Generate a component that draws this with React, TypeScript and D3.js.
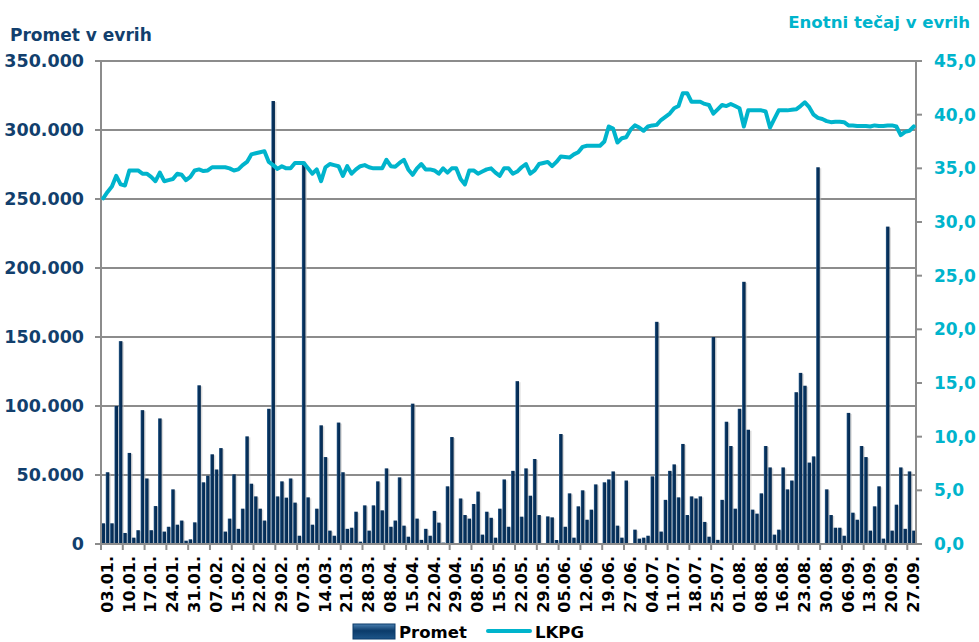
import React, { useEffect, useRef } from 'react';
import * as d3 from 'd3';

// Promet v evrih (v tisočih), dnevno
const promet = [
  15, 52, 15, 100, 147, 8, 66, 4.6, 10, 97, 47.5, 10, 27.5, 91, 9, 12.5, 39.6, 14, 17, 2.4,
  3.4, 15.7, 115, 44.7, 49.5, 65, 54, 69.5, 9, 18.4, 50.5, 11, 25.6, 78, 43.7, 34.5, 25.6, 17, 98, 321,
  34.5, 45.4, 33.6, 47.5, 30, 6, 277, 33.8, 14, 25.6, 86, 63, 9.7, 6, 88, 52, 11, 11.8, 23.4, 1.7,
  28, 9.7, 28, 45.4, 24.4, 54.8, 12.5, 17, 48.3, 13.3, 5.3, 101.7, 18.4, 3, 11, 6, 24, 15.5, 1, 41.8,
  77.5, 0, 33, 21, 18.4, 29, 38, 6.8, 23.4, 19, 4.6, 25.6, 46.8, 12.5, 53, 118, 19.8, 54.8, 35, 61.6,
  21, 0, 20, 19.3, 2.9, 79.7, 12.5, 36.7, 4.6, 27.3, 38.9, 17.6, 24.9, 43.2, 0, 44.7, 46.8, 52.6, 13.3, 4.6,
  46, 0, 10.4, 3.9, 4.6, 6, 49, 161, 9, 32, 53, 57.7, 33.8, 72.5, 21, 34.5, 33, 34.5, 16, 5.3,
  150, 3, 32, 88.6, 71, 25.6, 98, 190, 82.8, 24.9, 22, 36.7, 71, 55.5, 6.8, 10.4, 55.5, 39.6, 46, 110,
  124, 114.7, 59, 63.5, 273, 0, 39.6, 21, 11.8, 11.8, 6, 95, 22.7, 17.6, 71, 63, 9.7, 27.3, 41.8, 3.9,
  230, 9.7, 28.5, 55.5, 11, 52.6, 9.7,
];

// LKPG enotni tečaj
const tecaj = [
  32.2, 32.8, 33.3, 34.3, 33.5, 33.4, 34.8, 34.8, 34.8, 34.5, 34.5, 34.2, 33.8, 34.6, 33.8, 33.9, 34.0, 34.5, 34.4, 33.9,
  34.2, 34.8, 34.9, 34.75, 34.8, 35.1, 35.1, 35.1, 35.1, 35.0, 34.8, 34.9, 35.3, 35.6, 36.3, 36.4, 36.5, 36.6, 35.6, 35.3,
  34.95, 35.2, 35.0, 35.0, 35.5, 35.5, 35.5, 35.0, 34.5, 34.9, 33.8, 35.1, 35.4, 35.3, 35.2, 34.3, 35.2, 34.5, 34.9, 35.2,
  35.3, 35.1, 35.0, 35.0, 35.0, 35.8, 35.2, 35.15, 35.5, 35.8, 34.9, 34.4, 35.0, 35.4, 34.9, 34.9, 34.8, 34.5, 35.0, 34.6,
  35.0, 35.0, 34.0, 33.5, 34.8, 34.8, 34.5, 34.7, 34.9, 35.0, 34.6, 34.3, 35.0, 35.0, 34.5, 34.7, 35.1, 35.4, 34.5, 34.8,
  35.4, 35.5, 35.6, 35.2, 35.6, 36.1, 36.05, 36.0, 36.3, 36.5, 37.0, 37.1, 37.1, 37.1, 37.1, 37.5, 38.9, 38.7, 37.4, 37.8,
  37.9, 38.6, 39.0, 38.8, 38.5, 38.9, 39.0, 39.05, 39.5, 39.8, 40.1, 40.6, 40.8, 42.0, 42.0, 41.2, 41.2, 41.2, 41.0, 40.9,
  40.1, 40.5, 40.9, 40.8, 41.0, 40.8, 40.6, 38.9, 40.4, 40.4, 40.4, 40.4, 40.3, 38.8, 39.6, 40.4, 40.4, 40.4, 40.45, 40.5,
  40.8, 41.15, 40.7, 40.0, 39.7, 39.6, 39.4, 39.3, 39.35, 39.35, 39.3, 39.0, 39.0, 38.95, 38.95, 38.95, 38.9, 39.0, 38.95, 38.95,
  39.0, 39.0, 38.9, 38.1, 38.4, 38.5, 38.9,
];

// oznake vsakih 5 trgovalnih dni
const datumi = [
  '03.01.', '10.01.', '17.01.', '24.01.', '31.01.', '07.02.', '15.02.', '22.02.', '29.02.', '07.03.',
  '14.03.', '21.03.', '28.03.', '08.04.', '15.04.', '22.04.', '29.04.', '08.05.', '15.05.', '22.05.',
  '29.05.', '05.06.', '12.06.', '19.06.', '27.06.', '04.07.', '11.07.', '18.07.', '25.07.', '01.08.',
  '08.08.', '16.08.', '23.08.', '30.08.', '06.09.', '13.09.', '20.09.', '27.09.',
];

const leveTicks = [0, 50000, 100000, 150000, 200000, 250000, 300000, 350000];
const desneTicks = [0, 5, 10, 15, 20, 25, 30, 35, 40, 45];

const NAVY = '#123f6d';
const CYAN = '#00b4cc';
const GRID = '#8c8c8c';
const FONT = '"DejaVu Sans", sans-serif';

export default function App() {
  const ref = useRef<SVGSVGElement>(null);

  useEffect(() => {
    const svg = d3.select(ref.current);
    svg.selectAll('*').remove();

    const left = 101, right = 916, top = 61, bottom = 544;

    const idx = promet.map((_, i) => i);
    const x = d3.scaleBand<number>().domain(idx).range([left, right]).paddingInner(0.18).paddingOuter(0.09);
    const step = x.step();
    const y = d3.scaleLinear().domain([0, 350000]).range([bottom, top]);
    const y2 = d3.scaleLinear().domain([0, 45]).range([bottom, top]);

    const fmtL = (v: number) => d3.format(',')(v).replace(/,/g, '.');
    const fmtR = (v: number) => d3.format('.1f')(v).replace('.', ',');

    const defs = svg.append('defs');
    const grad = defs.append('linearGradient').attr('id', 'barGrad').attr('x1', 0).attr('x2', 1).attr('y1', 0).attr('y2', 0);
    grad.append('stop').attr('offset', '0%').attr('stop-color', '#3a6b99');
    grad.append('stop').attr('offset', '30%').attr('stop-color', '#08335f');
    grad.append('stop').attr('offset', '100%').attr('stop-color', '#04284d');

    const legGrad = defs.append('linearGradient').attr('id', 'legGrad').attr('x1', 0).attr('x2', 0).attr('y1', 0).attr('y2', 1);
    legGrad.append('stop').attr('offset', '0%').attr('stop-color', '#4a7fb0');
    legGrad.append('stop').attr('offset', '45%').attr('stop-color', '#0b3b6a');
    legGrad.append('stop').attr('offset', '100%').attr('stop-color', '#1d5589');

    // mreža
    svg.append('g').selectAll('line').data(leveTicks.filter(t => t > 0)).enter().append('line')
      .attr('x1', left - 6).attr('x2', right)
      .attr('y1', d => y(d)).attr('y2', d => y(d))
      .attr('stroke', GRID).attr('stroke-width', 2);

    // stolpci - senca
    svg.append('g').selectAll('rect').data(promet).enter().append('rect')
      .attr('x', (_, i) => (x(i) as number) + 1.5)
      .attr('y', d => y(d * 1000) + 1)
      .attr('width', x.bandwidth())
      .attr('height', d => bottom - y(d * 1000))
      .attr('fill', '#bdbdbd').attr('opacity', 0.55);

    svg.append('g').selectAll('rect').data(promet).enter().append('rect')
      .attr('x', (_, i) => x(i) as number)
      .attr('y', d => y(d * 1000))
      .attr('width', x.bandwidth())
      .attr('height', d => bottom - y(d * 1000))
      .attr('fill', 'url(#barGrad)');

    // osi
    svg.append('line').attr('x1', left).attr('x2', left).attr('y1', top).attr('y2', bottom + 6)
      .attr('stroke', GRID).attr('stroke-width', 2);
    svg.append('line').attr('x1', right).attr('x2', right).attr('y1', top).attr('y2', bottom)
      .attr('stroke', GRID).attr('stroke-width', 2);
    svg.append('line').attr('x1', left - 6).attr('x2', right).attr('y1', bottom).attr('y2', bottom)
      .attr('stroke', GRID).attr('stroke-width', 2);

    svg.append('g').selectAll('line').data(desneTicks).enter().append('line')
      .attr('x1', right).attr('x2', right + 6)
      .attr('y1', d => y2(d)).attr('y2', d => y2(d))
      .attr('stroke', GRID).attr('stroke-width', 2);

    const tickIdx = datumi.map((_, k) => k * 5);
    svg.append('g').selectAll('line').data(tickIdx).enter().append('line')
      .attr('x1', d => left + d * step).attr('x2', d => left + d * step)
      .attr('y1', bottom).attr('y2', bottom + 6)
      .attr('stroke', GRID).attr('stroke-width', 2);

    // črta LKPG
    const line = d3.line<number>()
      .x((_, i) => (x(i) as number) + x.bandwidth() / 2)
      .y(d => y2(d));
    svg.append('path').datum(tecaj)
      .attr('d', line)
      .attr('fill', 'none').attr('stroke', CYAN).attr('stroke-width', 4)
      .attr('stroke-linejoin', 'round').attr('stroke-linecap', 'round');

    // napisi na oseh
    svg.append('g').selectAll('text').data(leveTicks).enter().append('text')
      .attr('x', 84).attr('y', d => y(d)).attr('dy', '0.36em')
      .attr('text-anchor', 'end')
      .attr('font-family', FONT).attr('font-weight', 'bold').attr('font-size', 17.5)
      .attr('fill', NAVY).text(d => fmtL(d));

    svg.append('g').selectAll('text').data(desneTicks).enter().append('text')
      .attr('x', 934).attr('y', d => y2(d)).attr('dy', '0.36em')
      .attr('font-family', FONT).attr('font-weight', 'bold').attr('font-size', 17)
      .attr('fill', CYAN).text(d => fmtR(d));

    svg.append('g').selectAll('text').data(datumi).enter().append('text')
      .attr('transform', (_, k) => `translate(${left + k * 5 * step + 6},556) rotate(-90)`)
      .attr('text-anchor', 'end').attr('dy', '0.36em')
      .attr('font-family', FONT).attr('font-weight', 'bold').attr('font-size', 16)
      .attr('fill', '#000').text(d => d);

    svg.append('text').attr('x', 10).attr('y', 41)
      .attr('font-family', FONT).attr('font-weight', 'bold').attr('font-size', 17)
      .attr('fill', NAVY).text('Promet v evrih');
    svg.append('text').attr('x', 970).attr('y', 28).attr('text-anchor', 'end')
      .attr('font-family', FONT).attr('font-weight', 'bold').attr('font-size', 16.6)
      .attr('fill', CYAN).text('Enotni tečaj v evrih');

    // legenda
    svg.append('rect').attr('x', 353).attr('y', 624).attr('width', 42).attr('height', 15)
      .attr('fill', 'url(#legGrad)').attr('stroke', '#0b3b6a').attr('stroke-width', 1);
    svg.append('text').attr('x', 399).attr('y', 638)
      .attr('font-family', FONT).attr('font-weight', 'bold').attr('font-size', 16.5)
      .attr('fill', '#000').text('Promet');
    svg.append('line').attr('x1', 488).attr('x2', 530).attr('y1', 631).attr('y2', 631)
      .attr('stroke', CYAN).attr('stroke-width', 4).attr('stroke-linecap', 'round');
    svg.append('text').attr('x', 535).attr('y', 638)
      .attr('font-family', FONT).attr('font-weight', 'bold').attr('font-size', 16.5)
      .attr('fill', '#000').text('LKPG');
  }, []);

  return (
    <div>
      <svg ref={ref} width={979} height={642} style={{ position: 'absolute', left: 0, top: 0, background: '#fff' }} />
    </div>
  );
}
